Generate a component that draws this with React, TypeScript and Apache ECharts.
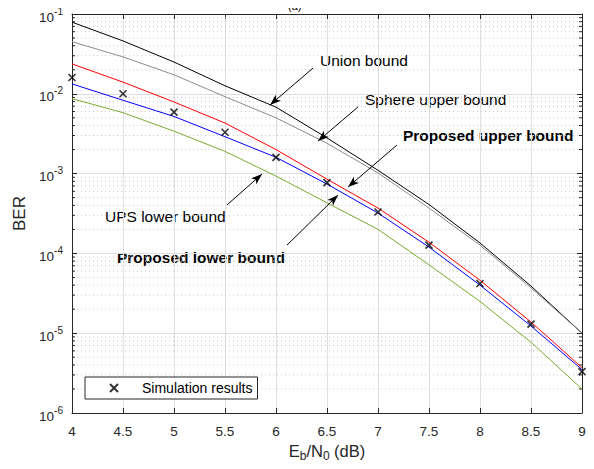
import React, { useEffect, useRef } from "react";
import * as echarts from "echarts";

const ebn0 = [4, 4.5, 5, 5.5, 6, 6.5, 7, 7.5, 8, 8.5, 9];
const unionBound = [0.079, 0.046, 0.025, 0.0126, 0.0068, 0.0028, 0.0011, 4.1e-4, 1.35e-4, 3.9e-5, 1.0e-5];
const sphereUpper = [0.045, 0.029, 0.0173, 0.0092, 0.005, 0.0024, 0.00102, 3.7e-4, 1.27e-4, 3.7e-5, 1.0e-5];
const proposedUpper = [0.0237, 0.014, 0.0079, 0.0043, 0.002, 8.5e-4, 3.7e-4, 1.38e-4, 4.6e-5, 1.38e-5, 3.7e-6];
const upsLower = [0.0133, 0.0083, 0.0052, 0.0029, 0.0016, 7.4e-4, 3.2e-4, 1.2e-4, 4.0e-5, 1.23e-5, 3.5e-6];
const proposedLower = [0.0087, 0.0058, 0.0034, 0.0019, 9.3e-4, 4.3e-4, 2.0e-4, 7.2e-5, 2.5e-5, 7.7e-6, 2.0e-6];
const simulation = [0.016, 0.01, 0.0059, 0.0033, 0.0016, 7.7e-4, 3.3e-4, 1.27e-4, 4.2e-5, 1.3e-5, 3.3e-6];

const decadeExponents = [-6, -5, -4, -3, -2];
const minorMantissas = [2, 3, 4, 5, 6, 7, 8, 9];

// arrows: [fromX, fromY, toX, toY] in data units
const arrowUnion = [6.363, 0.021, 5.941, 0.00724];
const arrowSphere = [6.804, 0.00684, 6.412, 0.00256];
const arrowPropUpper = [7.186, 0.00228, 6.706, 6.79e-4];
const arrowUps = [5.52, 4.05e-4, 5.863, 9.88e-4];
const arrowPropLower = [6.108, 1.27e-4, 6.608, 5.39e-4];

const FONT = "Liberation Sans, Arial, Helvetica, sans-serif";
const AXIS_COLOR = "#262626";

const pair = (ys: number[]) => ebn0.map((x, i) => [x, ys[i]]);

export default function App() {
  const ref = useRef<HTMLDivElement>(null);
  useEffect(() => {
    if (!ref.current) return;
    const chart = echarts.init(ref.current, undefined, { renderer: "svg" });
    const minorValues: number[][] = [];
    decadeExponents.forEach((e) =>
      minorMantissas.forEach((m) => minorValues.push([4, m * Math.pow(10, e)]))
    );
    const arrows = [arrowUnion, arrowSphere, arrowPropUpper, arrowUps, arrowPropLower];
    const lineSeries = (name: string, ys: number[], color: string) => ({
      name,
      type: "line",
      data: pair(ys),
      showSymbol: false,
      symbol: "none",
      smooth: false,
      lineStyle: { color, width: 1 },
      z: 3,
      silent: true,
    });
    const xSym = "path://M0,0L10,10M10,0L0,10";
    const annot = (x: number, y: number, text: string, bold: boolean) => ({
      type: "text",
      x,
      y,
      style: {
        text,
        font: (bold ? "bold " : "") + "15.5px " + FONT,
        fill: "#000",
        textVerticalAlign: "middle",
      },
    });
    chart.setOption({
      animation: false,
      textStyle: { fontFamily: FONT },
      grid: { left: 72, right: 12, top: 14, bottom: 56, containLabel: false },
      xAxis: [
        {
          type: "value",
          min: 4,
          max: 9,
          interval: 0.5,
          position: "bottom",
          axisLine: { show: true, onZero: false, lineStyle: { color: AXIS_COLOR, width: 1 } },
          axisTick: { show: true, inside: true, length: 5, lineStyle: { color: AXIS_COLOR } },
          axisLabel: { color: AXIS_COLOR, fontSize: 13.5, margin: 11, fontFamily: FONT },
          splitLine: { show: true, lineStyle: { color: "#dedede", width: 1 } },
          name: "{n|E}{s|b}{n|/N}{s|0}{n| (dB)}",
          nameLocation: "middle",
          nameGap: 27,
          nameTextStyle: {
            rich: {
              n: { fontSize: 16.5, color: AXIS_COLOR, fontFamily: FONT },
              s: { fontSize: 12, color: AXIS_COLOR, fontFamily: FONT, padding: [9, 0, 0, 0] },
            },
          },
        },
        {
          type: "value",
          min: 4,
          max: 9,
          interval: 0.5,
          position: "top",
          axisLine: { show: true, onZero: false, lineStyle: { color: AXIS_COLOR, width: 1 } },
          axisTick: { show: true, inside: true, length: 5, lineStyle: { color: AXIS_COLOR } },
          axisLabel: { show: false },
          splitLine: { show: false },
        },
      ],
      yAxis: [
        {
          type: "log",
          logBase: 10,
          min: 1e-6,
          max: 1e-1,
          interval: 1,
          position: "left",
          axisLine: { show: true, onZero: false, lineStyle: { color: AXIS_COLOR, width: 1 } },
          axisTick: { show: true, inside: true, length: 5, lineStyle: { color: AXIS_COLOR } },
          axisLabel: {
            margin: 9,
            formatter: (v: number) => {
              const e = Math.round(Math.log10(v));
              return "{b|10}{s|" + e + "}";
            },
            rich: {
              b: { fontSize: 13.5, color: AXIS_COLOR, fontFamily: FONT, padding: [6, 0, 0, 0] },
              s: { fontSize: 10, color: AXIS_COLOR, fontFamily: FONT, padding: [0, 0, 6, 0] },
            },
          },
          splitLine: { show: true, lineStyle: { color: "#dedede", width: 1 } },
          name: "BER",
          nameLocation: "middle",
          nameGap: 41,
          nameRotate: 90,
          nameTextStyle: { fontSize: 17, color: AXIS_COLOR, fontFamily: FONT },
        },
        {
          type: "log",
          logBase: 10,
          min: 1e-6,
          max: 1e-1,
          interval: 1,
          position: "right",
          axisLine: { show: true, onZero: false, lineStyle: { color: AXIS_COLOR, width: 1 } },
          axisTick: { show: true, inside: true, length: 5, lineStyle: { color: AXIS_COLOR } },
          axisLabel: { show: false },
          splitLine: { show: false },
        },
      ],
      legend: {
        left: 85,
        top: 377,
        orient: "horizontal",
        data: ["Simulation results"],
        backgroundColor: "#ffffff",
        borderColor: AXIS_COLOR,
        borderWidth: 1,
        borderRadius: 0,
        padding: [4, 5, 4, 24],
        itemWidth: 8,
        itemHeight: 8,
        textStyle: { fontSize: 14, color: "#000", fontFamily: FONT, padding: [0, 0, 0, 19] },
        selectedMode: false,
      },
      graphic: [
        { type: "text", left: 288, top: 0, style: { text: "(a)", font: "11px " + FONT, fill: "#000" } },
        annot(320, 60, "Union bound", false),
        annot(365, 99, "Sphere upper bound", false),
        annot(403, 135, "Proposed upper bound", true),
        annot(105, 216, "UPS lower bound", false),
        annot(117, 257, "Proposed lower bound", true),
      ],
      series: [
        {
          type: "custom",
          xAxisIndex: 0,
          yAxisIndex: 0,
          data: minorValues,
          encode: { x: 0, y: 1 },
          silent: true,
          z: 1,
          renderItem: (params: any, api: any) => {
            const v = api.value(1);
            const p1 = api.coord([4, v]);
            const p2 = api.coord([9, v]);
            return {
              type: "group",
              children: [
                {
                  type: "line",
                  shape: { x1: p1[0] + 1, y1: p1[1], x2: p2[0] - 1, y2: p2[1] },
                  style: { stroke: "#c8c8c8", lineWidth: 1, lineDash: [1, 3] },
                },
                {
                  type: "line",
                  shape: { x1: p1[0], y1: p1[1], x2: p1[0] + 3, y2: p1[1] },
                  style: { stroke: AXIS_COLOR, lineWidth: 1 },
                },
                {
                  type: "line",
                  shape: { x1: p2[0] - 3, y1: p2[1], x2: p2[0], y2: p2[1] },
                  style: { stroke: AXIS_COLOR, lineWidth: 1 },
                },
              ],
            };
          },
        },
        lineSeries("Union bound", unionBound, "#000000"),
        lineSeries("Sphere upper bound", sphereUpper, "#8c8c8c"),
        lineSeries("Proposed upper bound", proposedUpper, "#ff0000"),
        lineSeries("UPS lower bound", upsLower, "#0000ff"),
        lineSeries("Proposed lower bound", proposedLower, "#77ac30"),
        {
          name: "Simulation results",
          type: "scatter",
          data: pair(simulation),
          symbol: xSym,
          symbolSize: 7,
          itemStyle: { color: "transparent", borderColor: "#000", borderWidth: 1.6 },
          z: 5,
          silent: true,
        },
        {
          type: "line",
          data: [],
          silent: true,
          z: 4,
          markLine: {
            silent: true,
            symbol: ["none", "arrow"],
            symbolSize: [6, 11],
            label: { show: false },
            lineStyle: { color: "#000", width: 1, type: "solid" },
            data: arrows.map((a) => [
              { coord: [a[0], a[1]] },
              { coord: [a[2], a[3]] },
            ]),
          },
        },
      ],
    });
    return () => chart.dispose();
  }, []);
  return <div ref={ref} style={{ width: 594, height: 469, margin: -8 }} />;
}
